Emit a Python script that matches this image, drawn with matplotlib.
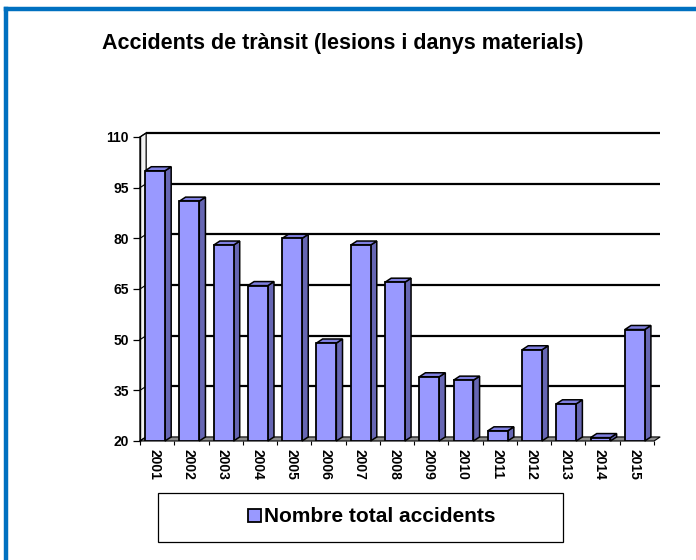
import matplotlib.pyplot as plt
from matplotlib.patches import Polygon, Rectangle
from matplotlib.lines import Line2D

plt.rcParams['font.family'] = ['Liberation Sans', 'DejaVu Sans']

years = ["2001", "2002", "2003", "2004", "2005", "2006", "2007", "2008",
         "2009", "2010", "2011", "2012", "2013", "2014", "2015"]
accidents = [100, 91, 78, 66, 80, 49, 78, 67, 39, 38, 23, 47, 31, 21, 53]
y_ticks = [20, 35, 50, 65, 80, 95, 110]

front_col = "#9999FF"
side_col = "#6666B3"
top_col = "#7F7FE0"

fig = plt.figure(figsize=(6.96, 5.6), dpi=100)

# blue frame along the top and left edges
fig.add_artist(Line2D([6 / 696, 6 / 696], [0, 1 - 9 / 560], color="#0070C0", lw=3.2,
                      transform=fig.transFigure))
fig.add_artist(Line2D([6 / 696, 1], [1 - 9 / 560, 1 - 9 / 560], color="#0070C0", lw=3.2,
                      transform=fig.transFigure))

fig.text(343 / 696, 1 - 43 / 560, "Accidents de trànsit (lesions i danys materials)",
         ha="center", va="center", fontsize=15.5, fontweight="bold")

ax = fig.add_axes([140 / 696, 119 / 560, 514 / 696, 304 / 560])
ymin, ymax = 20, 110
n = len(years)
ax.set_xlim(0, n)
ax.set_ylim(ymin, ymax)
for s in ax.spines.values():
    s.set_visible(False)

# depth of the pseudo-3D effect, in data units
dx, dy = 0.18, 1.2

# back wall gridlines
for v in y_ticks[1:]:
    ax.plot([dx, n + dx], [v + dy, v + dy], color="black", lw=1.6,
            clip_on=False, zorder=1, solid_capstyle="butt")

# left wall
ax.add_patch(Polygon([(0, ymin), (dx, ymin + dy), (dx, ymax + dy), (0, ymax)],
                     closed=True, facecolor="#F2F2F2", edgecolor="black", lw=0.9,
                     clip_on=False, zorder=2))
for v in y_ticks:
    ax.plot([0, dx], [v, v + dy], color="black", lw=0.8, clip_on=False, zorder=2)

# floor
ax.add_patch(Polygon([(0, ymin), (n, ymin), (n + dx, ymin + dy), (dx, ymin + dy)],
                     closed=True, facecolor="#8C8C8C", edgecolor="black", lw=0.8,
                     clip_on=False, zorder=2))

# bars with side and top faces
x0s = [i + 0.15 for i in range(n)]
w = 0.58
ax.bar(x0s, [a - ymin for a in accidents], width=w, bottom=ymin, align="edge",
       color=front_col, edgecolor="black", lw=1.3, zorder=4,
       label="Nombre total accidents")
for x0, a in zip(x0s, accidents):
    x1 = x0 + w
    ax.add_patch(Polygon([(x1, ymin), (x1 + dx, ymin + dy), (x1 + dx, a + dy), (x1, a)],
                         closed=True, facecolor=side_col, edgecolor="black", lw=1.1,
                         zorder=3, clip_on=False))
    ax.add_patch(Polygon([(x0, a), (x1, a), (x1 + dx, a + dy), (x0 + dx, a + dy)],
                         closed=True, facecolor=top_col, edgecolor="black", lw=1.1,
                         zorder=3, clip_on=False))

ax.set_yticks(y_ticks)
ax.set_yticklabels([str(v) for v in y_ticks], fontsize=10, fontweight="bold")
ax.tick_params(axis="y", length=5, width=0.9, pad=3, direction="out", color="black")
ax.set_xticks(range(n + 1), minor=True)
ax.set_xticks([i + 0.42 for i in range(n)])
ax.set_xticklabels(years, rotation=-90, fontsize=10, fontweight="bold")
ax.tick_params(axis="x", which="major", length=0, pad=6)
ax.tick_params(axis="x", which="minor", length=3, width=0.8, color="black")
ax.plot([0, 0], [ymin, ymax], color="black", lw=1.0, clip_on=False, zorder=5)

# legend box
fig.add_artist(Rectangle((158 / 696, 1 - 542 / 560), 405 / 696, 49 / 560,
                         transform=fig.transFigure, facecolor="white",
                         edgecolor="black", lw=0.9))
fig.legend(loc="center", bbox_to_anchor=(372 / 696, 1 - 517 / 560), frameon=False,
           prop={"size": 15, "weight": "bold"}, handlelength=0.6, handleheight=0.6,
           handletextpad=0.15)

fig.savefig("out.png", dpi=100)
